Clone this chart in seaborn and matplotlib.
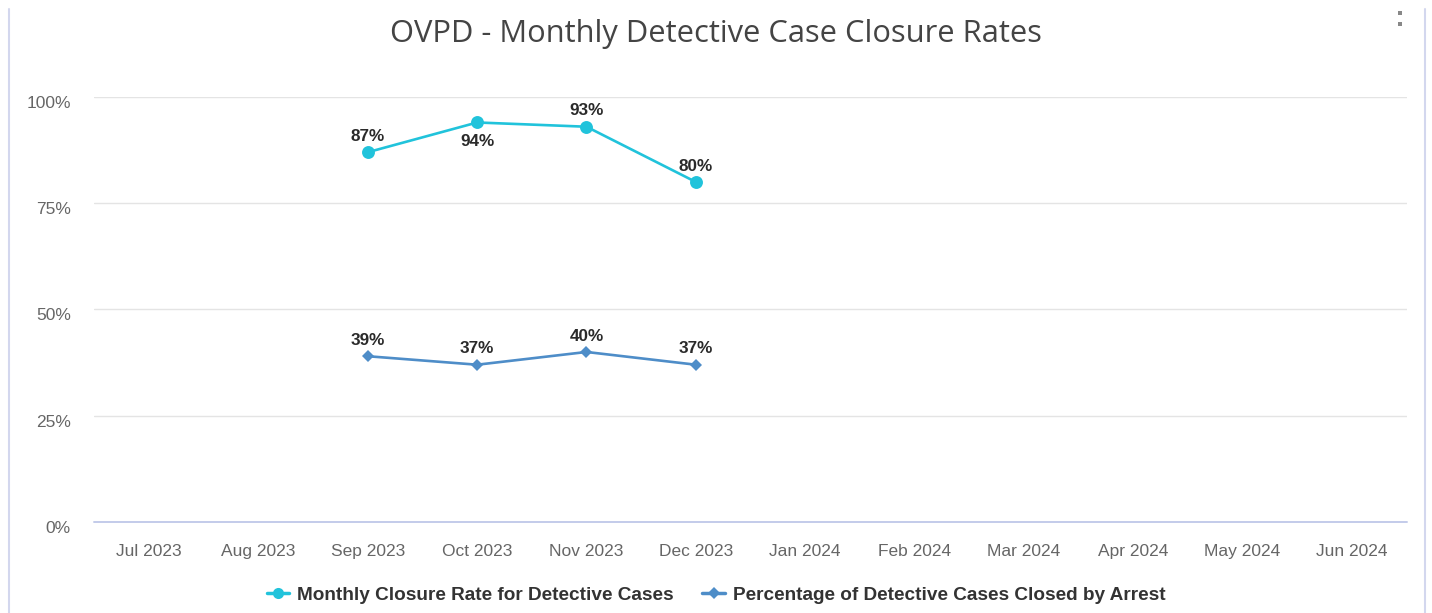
import matplotlib
matplotlib.use("Agg")
import matplotlib.pyplot as plt
import matplotlib.transforms as mtransforms
import seaborn as sns
import pandas as pd
from matplotlib.lines import Line2D

# ---- data ----
months = ["Jul 2023", "Aug 2023", "Sep 2023", "Oct 2023", "Nov 2023", "Dec 2023",
          "Jan 2024", "Feb 2024", "Mar 2024", "Apr 2024", "May 2024", "Jun 2024"]
data_months = ["Sep 2023", "Oct 2023", "Nov 2023", "Dec 2023"]
closure_rate = [87, 94, 93, 80]
arrest_rate = [39, 37, 40, 37]
closure_label_side = ["above", "below", "above", "above"]
arrest_label_side = ["above", "above", "above", "above"]
series_names = ["Monthly Closure Rate for Detective Cases",
                "Percentage of Detective Cases Closed by Arrest"]
yticks = [0, 25, 50, 75, 100]
ytick_labels = ["0%", "25%", "50%", "75%", "100%"]
title = "OVPD - Monthly Detective Case Closure Rates"

c_closure = "#21C3DB"
c_arrest = "#4E8DC8"

sns.set_theme(style="white")
plt.rcParams['font.family'] = ['Liberation Sans', 'DejaVu Sans']

fig = plt.figure(figsize=(14.32, 6.13), dpi=100)
ax = fig.add_axes([0.0659, 0.1485, 0.9164, 0.6933])

xpos = [months.index(m) for m in data_months]
df1 = pd.DataFrame({"x": xpos, "value": closure_rate, "series": series_names[0]})
df2 = pd.DataFrame({"x": xpos, "value": arrest_rate, "series": series_names[1]})

sns.lineplot(data=df1, x="x", y="value", color=c_closure, marker="o", linewidth=1.9,
             markersize=9.3, markeredgewidth=0, ax=ax, legend=False)
sns.lineplot(data=df2, x="x", y="value", color=c_arrest, marker="D", linewidth=1.9,
             markersize=6.5, markeredgewidth=0, ax=ax, legend=False)

# data labels
def label(x, v, side):
    off = 11.5 if side == "above" else -13.5
    ax.annotate(f"{v}%", (x, v), xytext=(0, off), textcoords="offset points",
                ha="center", va="center", fontsize=12.3, fontweight="bold", color="#2a2a2a")

for x, v, side in zip(xpos, closure_rate, closure_label_side):
    label(x, v, side)
for x, v, side in zip(xpos, arrest_rate, arrest_label_side):
    label(x, v, side)

ax.set_xlim(-0.5, len(months) - 0.5)
ax.set_ylim(0, 100)
ax.set_xticks(range(len(months)))
ax.set_xticklabels(months)
ax.set_yticks(yticks)
ax.set_yticklabels(ytick_labels)
ax.set_xlabel("")
ax.set_ylabel("")
ax.tick_params(axis="both", length=0, labelsize=12.5, labelcolor="#666666")
ax.tick_params(axis="y", pad=17)
ax.tick_params(axis="x", pad=16)
shift = mtransforms.ScaledTranslation(0, -5 / 100, fig.dpi_scale_trans)
for lbl in ax.get_yticklabels():
    lbl.set_transform(lbl.get_transform() + shift)
for s in ax.spines.values():
    s.set_visible(False)
for y in yticks[1:]:
    ax.axhline(y, color="#E4E4E4", linewidth=1.0, zorder=0)
ax.axhline(0, color="#C3CBEA", linewidth=1.4, zorder=1, clip_on=False)

fig.text(0.5, 0.944, title, ha="center", va="center", fontsize=22.2,
         color="#444444", family=["Open Sans", "DejaVu Sans"])

handles = [Line2D([], [], color=c_closure, marker="o", markersize=8, markeredgewidth=0, linewidth=2.5),
           Line2D([], [], color=c_arrest, marker="D", markersize=6, markeredgewidth=0, linewidth=2.5)]
fig.legend(handles, series_names, loc="center", bbox_to_anchor=(0.5, 0.029), ncol=2,
           frameon=False, handlelength=1.2, handletextpad=0.4,
           columnspacing=1.5, prop={"weight": "bold", "size": 13.7}, labelcolor="#333333")

# card borders and menu dots
fig.add_artist(Line2D([9 / 1432, 9 / 1432], [0, 0.985], color="#D3D7EE", linewidth=1.5))
fig.add_artist(Line2D([1425 / 1432, 1425 / 1432], [0, 0.985], color="#D3D7EE", linewidth=1.5))
fig.add_artist(Line2D([1400 / 1432, 1400 / 1432], [1 - 13 / 613, 1 - 24 / 613], color="#888888",
                      linestyle="none", marker="s", markersize=3.5, markeredgewidth=0))

fig.savefig("out.png", dpi=100)
